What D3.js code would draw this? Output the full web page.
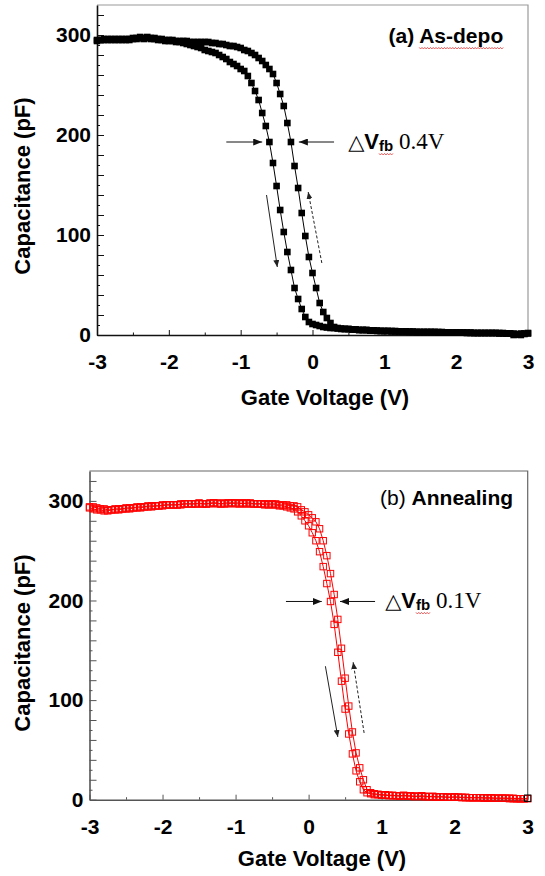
<!DOCTYPE html>
<html>
<head>
<meta charset="UTF-8">
<title>C-V hysteresis</title>
<script src="https://d3js.org/d3.v7.min.js"></script>
<style>
  body { margin: 0; background: #fff; }
  text { font-family: "Liberation Sans", Arial, sans-serif; }
</style>
</head>
<body>
<script>
// gate voltage sweep points (V), shared by all four branches
var voltage = [
  -3, -2.95, -2.9, -2.85, -2.8, -2.75, -2.7, -2.65, -2.6, -2.55,
  -2.5, -2.45, -2.4, -2.35, -2.3, -2.25, -2.2, -2.15, -2.1, -2.05,
  -2, -1.95, -1.9, -1.85, -1.8, -1.75, -1.7, -1.65, -1.6, -1.55,
  -1.5, -1.45, -1.4, -1.35, -1.3, -1.25, -1.2, -1.15, -1.1, -1.05,
  -1, -0.95, -0.9, -0.85, -0.8, -0.75, -0.7, -0.65, -0.6, -0.55,
  -0.5, -0.45, -0.4, -0.35, -0.3, -0.25, -0.2, -0.15, -0.1, -0.05,
  0, 0.05, 0.1, 0.15, 0.2, 0.25, 0.3, 0.35, 0.4, 0.45,
  0.5, 0.55, 0.6, 0.65, 0.7, 0.75, 0.8, 0.85, 0.9, 0.95,
  1, 1.05, 1.1, 1.15, 1.2, 1.25, 1.3, 1.35, 1.4, 1.45,
  1.5, 1.55, 1.6, 1.65, 1.7, 1.75, 1.8, 1.85, 1.9, 1.95,
  2, 2.05, 2.1, 2.15, 2.2, 2.25, 2.3, 2.35, 2.4, 2.45,
  2.5, 2.55, 2.6, 2.65, 2.7, 2.75, 2.8, 2.85, 2.9, 2.95,
  3
];

// (a) as-deposited, capacitance in pF
var asDepoForward = [
  295, 295, 296, 295, 296, 295, 296, 296, 295, 296,
  297, 296, 297, 296, 297, 296, 296, 295, 295, 294,
  294, 294, 293, 293, 292, 291, 290, 289, 288, 287,
  285, 284, 283, 282, 280, 278, 276, 273, 271, 269,
  266, 264, 259, 252, 244, 235, 222, 209, 193, 172,
  149, 125, 103, 83, 65, 47, 36, 26, 18, 13,
  11, 10, 9, 8, 7.5, 7, 7, 6.5, 6, 6,
  6, 5.5, 5.5, 5, 5, 5, 4.5, 4.5, 4.5, 4,
  4, 4, 4, 4, 3.5, 3.5, 3.5, 3.5, 3.5, 3,
  3, 3, 3, 3, 3, 3, 3, 2.5, 2.5, 2.5,
  2.5, 2.5, 2.5, 2.5, 2.5, 2, 2, 2, 2, 2,
  2, 2, 2, 2, 1.5, 1.5, 0, 0.5, 1.5, 1.5,
  2
];
var asDepoReverse = [
  294, 295, 295, 296, 295, 296, 295, 295, 296, 295,
  296, 297, 298, 297, 298, 297, 297, 296, 296, 295,
  295, 295, 294, 294, 294, 294, 293, 293, 293, 293,
  293, 293, 292, 292, 291, 291, 290, 289, 289, 288,
  287, 285, 284, 282, 280, 277, 274, 270, 266, 261,
  252, 241, 229, 212, 193, 169, 147, 122, 99, 78,
  62, 47, 32, 23, 17, 12, 8, 7, 6.5, 6,
  6, 5.5, 5.5, 5, 5, 5, 4.5, 4.5, 4, 4,
  4, 4, 3.5, 3.5, 3.5, 3.5, 3.5, 3, 3, 3,
  3, 3, 3, 3, 3, 2.5, 2.5, 2.5, 2.5, 2.5,
  2.5, 2.5, 2.5, 2, 2, 2, 2, 2, 2, 2,
  2, 2, 1.5, 1.5, 1.5, 1.5, 1.5, 0.5, 0, 1,
  1.5
];

// (b) after annealing, capacitance in pF
var annealForward = [
  294, 294, 293, 292, 292, 291, 291, 292, 292, 292,
  293, 293, 293, 294, 294, 294, 295, 295, 295, 295,
  296, 296, 296, 296, 296, 297, 297, 297, 297, 297,
  297, 297, 297, 297, 298, 297, 297, 297, 297, 298,
  297, 297, 298, 297, 297, 297, 297, 297, 296, 296,
  296, 296, 295, 295, 294, 293, 292, 289, 285, 280,
  275, 268, 260, 249, 234, 217, 199, 176, 148, 119,
  91, 66, 46, 29, 18, 10, 7, 6, 5, 5,
  4.5, 4.5, 4, 4, 4, 3.5, 4, 3.5, 3.5, 3,
  3.5, 3, 3, 3, 3, 2.5, 3, 2.5, 2.5, 2.5,
  2.5, 2.5, 2, 2, 2, 2, 2, 2, 1.5, 1.5,
  1.5, 1.5, 1.5, 1.5, 1.5, 1, 1, 1, 1, 1,
  1
];
var annealReverse = [
  293, 292, 291, 291, 290, 290, 291, 291, 291, 292,
  292, 292, 293, 293, 293, 294, 294, 294, 295, 295,
  295, 296, 296, 296, 296, 296, 297, 297, 297, 297,
  298, 297, 297, 298, 298, 298, 297, 298, 298, 298,
  298, 298, 297, 298, 298, 297, 297, 297, 297, 297,
  297, 297, 296, 296, 296, 295, 295, 294, 291, 289,
  286, 283, 279, 272, 260, 245, 227, 206, 181, 152,
  122, 94, 68, 47, 32, 20, 10, 7, 6, 5.5,
  5, 5, 4.5, 4.5, 4, 4, 4.5, 4, 4, 3.5,
  3.5, 4, 3.5, 3, 3.5, 3, 3, 3, 2.5, 2.5,
  3, 2.5, 2.5, 2.5, 2, 2, 2, 2, 2, 2,
  2, 1.5, 1.5, 1.5, 1.5, 1.5, 1.5, 1, 1, 1,
  1.5
];

// ticks
var xTicks = [-3, -2, -1, 0, 1, 2, 3];
var xMinorTicks = [-2.5, -1.5, -0.5, 0.5, 1.5, 2.5];
var yTicks = [0, 100, 200, 300];
var yMidTicks = [20, 40, 60, 80, 120, 140, 160, 180, 220, 240, 260, 280, 320];
var yMinorTicks = [10, 30, 50, 70, 90, 110, 130, 150, 170, 190, 210, 230, 250, 270, 290, 310];

var panels = [
  {
    left: 97, right: 528, top: 5, bottom: 335,
    axisColor: "#111", frameColor: "#9a9a9a",
    series: [asDepoForward, asDepoReverse], filled: true, color: "#000", box: 6.6,
    tag: "(a) ", tagWeight: "bold", name: "As-depo", nameSquiggle: true, titleAt: [2.655, 292],
    delta: "0.4V", deltaAt: [0.496, 186],
    hArrows: [[-1.20, 193, -0.70, 193], [0.30, 193, -0.19, 193]],
    solid: [-0.64, 140, -0.49, 68], dashed: [0.13, 72, -0.06, 143],
    yLabel: [22, 186], xLabel: [325, 405]
  },
  {
    left: 89.5, right: 527.7, top: 471, bottom: 799.7,
    axisColor: "#555", frameColor: "#666",
    series: [annealForward, annealReverse], filled: false, color: "#f00", box: 6.4,
    tag: "(b) ", tagWeight: "normal", name: "Annealing", nameSquiggle: false, titleAt: [2.80, 296],
    delta: "0.1V", deltaAt: [1.048, 192.5],
    hArrows: [[-0.31, 199, 0.18, 199], [0.91, 199, 0.43, 199]],
    solid: [0.23, 134, 0.40, 63], dashed: [0.76, 67, 0.61, 138],
    yLabel: [22, 643], xLabel: [322, 866]
  }
];

var svg = d3.select("body").append("svg")
  .attr("width", 545)
  .attr("height", 876);

// arrow heads
var defs = svg.append("defs");
defs.append("marker").attr("id", "headBig")
  .attr("markerUnits", "userSpaceOnUse").attr("markerWidth", 9).attr("markerHeight", 7)
  .attr("refX", 9).attr("refY", 3.5).attr("orient", "auto")
  .append("path").attr("d", "M0,0L9,3.5L0,7Z").attr("fill", "#111");
defs.append("marker").attr("id", "headSmall")
  .attr("markerUnits", "userSpaceOnUse").attr("markerWidth", 7).attr("markerHeight", 6)
  .attr("refX", 7).attr("refY", 3).attr("orient", "auto")
  .append("path").attr("d", "M0,0L7,3L0,6Z").attr("fill", "#222");

function squiggle(g, x0, len, yy) {
  var pts = d3.range(0, len + 0.01, 1.4).map((d, i) => [x0 + d, yy + (i % 2 ? 1 : -0.6)]);
  g.append("path").attr("d", d3.line()(pts))
    .attr("fill", "none").attr("stroke", "#e23b3b").attr("stroke-width", 0.8);
}

function drawPanel(p) {
  var x = d3.scaleLinear().domain([-3, 3]).range([p.left, p.right]);
  var y = d3.scaleLinear().domain([0, 330]).range([p.bottom, p.top]);
  var g = svg.append("g");

  // top and right frame
  g.append("path")
    .attr("d", `M${p.left},${p.top}H${p.right}V${p.bottom}`)
    .attr("fill", "none").attr("stroke", p.frameColor).attr("stroke-width", 1.2);

  // x axis
  var xMinor = g.append("g").attr("transform", `translate(0,${p.bottom})`)
    .call(d3.axisBottom(x).tickValues(xMinorTicks).tickSize(-2.5).tickSizeOuter(0).tickFormat(""));
  var xAxis = g.append("g").attr("transform", `translate(0,${p.bottom})`)
    .call(d3.axisBottom(x).tickValues(xTicks).tickSize(-5).tickSizeOuter(0).tickFormat(d => String(d)));
  xMinor.select(".domain").remove();
  xAxis.select(".domain").attr("stroke", p.axisColor).attr("stroke-width", 1.6);
  g.selectAll(".tick line").attr("stroke", p.axisColor);
  xAxis.selectAll("text")
    .attr("y", 34).attr("dy", 0)
    .attr("font-size", 21).attr("font-weight", "bold").attr("fill", "#000");

  // y axis
  var yMinor = g.append("g").attr("transform", `translate(${p.left},0)`)
    .call(d3.axisLeft(y).tickValues(yMinorTicks).tickSize(-3).tickSizeOuter(0).tickFormat(""));
  var yMid = g.append("g").attr("transform", `translate(${p.left},0)`)
    .call(d3.axisLeft(y).tickValues(yMidTicks).tickSize(-7).tickSizeOuter(0).tickFormat(""));
  var yAxis = g.append("g").attr("transform", `translate(${p.left},0)`)
    .call(d3.axisLeft(y).tickValues(yTicks).tickSize(-7).tickSizeOuter(0).tickPadding(6));
  yMinor.select(".domain").remove();
  yMid.select(".domain").remove();
  yAxis.select(".domain").attr("stroke", p.axisColor).attr("stroke-width", 1.6);
  g.selectAll(".tick line").attr("stroke", p.axisColor);
  yAxis.selectAll("text")
    .attr("font-size", 21).attr("font-weight", "bold").attr("fill", "#000");

  // axis titles
  g.append("text")
    .attr("transform", `translate(${p.yLabel[0]},${p.yLabel[1]}) rotate(-90)`)
    .attr("text-anchor", "middle").attr("dy", "0.35em")
    .attr("font-size", 22).attr("font-weight", "bold")
    .text("Capacitance (pF)");
  g.append("text")
    .attr("x", p.xLabel[0]).attr("y", p.xLabel[1])
    .attr("text-anchor", "middle")
    .attr("font-size", 22).attr("font-weight", "bold")
    .text("Gate Voltage (V)");

  // curves
  var line = d3.line().x((d, i) => x(voltage[i])).y(d => y(d));
  p.series.forEach(values => {
    g.append("path").datum(values)
      .attr("d", line)
      .attr("fill", "none").attr("stroke", p.color).attr("stroke-width", 1);
  });
  var h = p.box / 2;
  p.series.forEach((values, s) => {
    g.append("g").selectAll("rect")
      .data(values)
      .join("rect")
      .attr("x", (d, i) => x(voltage[i]) - h)
      .attr("y", d => y(d) - h)
      .attr("width", p.box)
      .attr("height", p.box)
      .attr("fill", p.filled ? p.color : "none")
      .attr("stroke", (d, i) => p.filled ? "none" : (s === 1 && i === values.length - 1 ? "#000" : p.color))
      .attr("stroke-width", 1);
  });

  // hysteresis arrows
  p.hArrows.forEach(a => {
    g.append("line")
      .attr("x1", x(a[0])).attr("y1", y(a[1])).attr("x2", x(a[2])).attr("y2", y(a[3]))
      .attr("stroke", "#111").attr("stroke-width", 1).attr("marker-end", "url(#headBig)");
  });
  g.append("line")
    .attr("x1", x(p.solid[0])).attr("y1", y(p.solid[1])).attr("x2", x(p.solid[2])).attr("y2", y(p.solid[3]))
    .attr("stroke", "#222").attr("stroke-width", 1).attr("marker-end", "url(#headSmall)");
  g.append("line")
    .attr("x1", x(p.dashed[0])).attr("y1", y(p.dashed[1])).attr("x2", x(p.dashed[2])).attr("y2", y(p.dashed[3]))
    .attr("stroke", "#222").attr("stroke-width", 1).attr("stroke-dasharray", "3,2")
    .attr("marker-end", "url(#headSmall)");

  // delta Vfb label
  var dt = g.append("text")
    .attr("x", x(p.deltaAt[0])).attr("y", y(p.deltaAt[1]))
    .attr("font-size", 22);
  dt.append("tspan").attr("font-family", "DejaVu Sans").attr("font-size", 21).text("\u25B3");
  dt.append("tspan").attr("font-weight", "bold").text("V");
  var fb = dt.append("tspan").attr("font-weight", "bold").attr("font-size", 15).attr("dy", 2).text("fb");
  dt.append("tspan").attr("font-family", "Liberation Serif").attr("font-size", 23).attr("dy", -2).text("\u00A0" + p.delta);
  var fbNode = fb.node();
  squiggle(g, fbNode.getStartPositionOfChar(0).x, fbNode.getComputedTextLength(), y(p.deltaAt[1]) + 5);

  // panel title
  var tt = g.append("text")
    .attr("x", x(p.titleAt[0])).attr("y", y(p.titleAt[1]))
    .attr("text-anchor", "end").attr("font-size", 21);
  tt.append("tspan").attr("font-weight", p.tagWeight).text(p.tag);
  var nm = tt.append("tspan").attr("font-weight", "bold").text(p.name);
  if (p.nameSquiggle) {
    var nmNode = nm.node();
    squiggle(g, nmNode.getStartPositionOfChar(0).x, nmNode.getComputedTextLength(), y(p.titleAt[1]) + 5);
  }
}

panels.forEach(drawPanel);
</script>
</body>
</html>
